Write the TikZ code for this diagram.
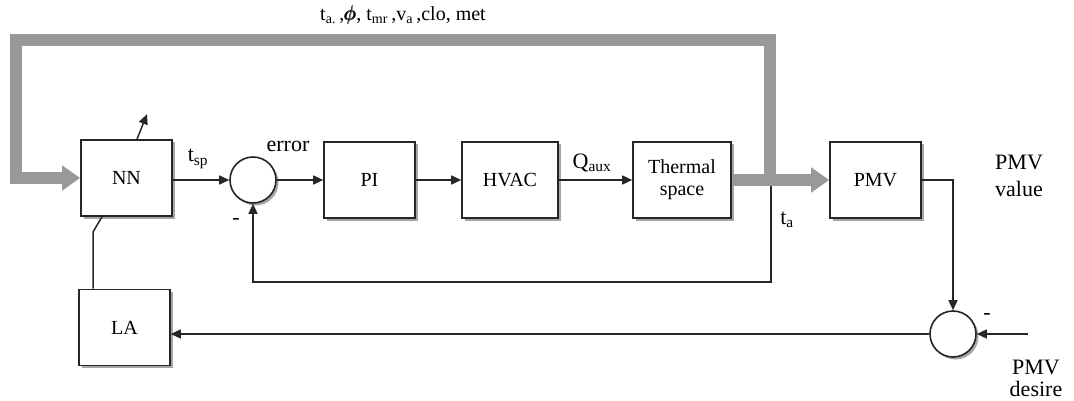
\documentclass[tikz,border=0pt]{standalone}
\usepackage{amsmath}
\usepackage{fontspec}
\setmainfont{Liberation Serif}
\usetikzlibrary{arrows.meta,shadows,calc}
\begin{document}
\begin{tikzpicture}[x=1pt,y=-1pt,
  blk/.style={draw=black!85, line width=1.6pt, fill=white, minimum width=91pt, minimum height=76pt,
    font=\fontsize{20}{22}\selectfont, align=center, inner sep=0pt,
    drop shadow={shadow xshift=2.5pt, shadow yshift=-2.5pt, opacity=1, fill=black!35}},
  sumc/.style={draw=black!85, line width=1.6pt, fill=white, circle, minimum size=46pt, inner sep=0pt,
    drop shadow={shadow xshift=2.5pt, shadow yshift=-2.5pt, opacity=1, fill=black!35}},
  sig/.style={draw=black!85, line width=1.5pt, -{Triangle[length=10pt,width=9pt]}},
  wire/.style={draw=black!85, line width=1.5pt},
  band/.style={draw=black!40, line width=12pt, line join=miter},
  bandarrow/.style={band, -{Triangle[length=18pt,width=24pt]}},
  lbl/.style={font=\fontsize{22}{24}\selectfont, inner sep=0pt},
  toplbl/.style={font=\fontsize{20}{22}\selectfont, inner sep=0pt}
]
\useasboundingbox (0,0) rectangle (1074,401);

% blocks
\node[blk] (NN) at (126.5,178) {NN};
\node[blk] (LA) at (124.5,327.5) {LA};
\node[blk] (PI) at (369.5,180) {PI};
\node[blk, minimum width=96pt] (HVAC) at (510,180) {HVAC};
\node[blk, minimum width=98pt] (TS) at (682,180) {Thermal\\space};
\node[blk] (PMV) at (875.5,180) {PMV};
\node[sumc] (S1) at (253,180) {};
\node[sumc] (S2) at (953,334) {};

% coordinates
\coordinate (j) at (770,180);
\coordinate (tl) at (16,40);
\coordinate (fb) at (771,186);
\coordinate (fc) at (771,282);
\coordinate (k) at (93,232);
\coordinate (pd) at (1028,334);

% thick gray paths
\draw[bandarrow] (TS.east) -- (j) |- (tl) |- (NN.west);
\draw[bandarrow] (j) -- (PMV.west);

% signals
\draw[sig] (NN.east |- S1.west) -- (S1.west);
\draw[sig] (S1.east) -- (PI.west);
\draw[sig] (PI.east) -- (HVAC.west);
\draw[sig] (HVAC.east) -- (TS.west);
\draw[sig] (fb) -- (fc) -| (S1.south);
\draw[sig] (PMV.east) -| (S2.north);
\draw[sig] (pd) -- (S2.east);
\draw[sig] (S2.west) -- (S2.west -| LA.east);
\draw[wire] ([xshift=-24.5pt]NN.south) -- (k) -- (k |- LA.north);
\draw[sig] ([xshift=10.5pt]NN.north) -- ++(10,-25);

% labels
\node[toplbl] (tlab) at (403,15) {t\textsubscript{a.}\,,$\pmb{\phi}$, t\textsubscript{mr}\,,v\textsubscript{a}\,,clo, met};
\node[lbl] (tsp) at (198,159) {t\textsubscript{sp}};
\node[lbl] (err) at (288,146) {error};
\node[lbl] (m1) at (236,221) {-};
\node[lbl] (qaux) at (592,163) {Q\textsubscript{aux}};
\node[lbl] (ta) at (787,220) {t\textsubscript{a}};
\node[lbl, align=left, anchor=west, font=\fontsize{22}{27}\selectfont] (pmvv) at (995,176) {PMV\\value};
\node[lbl] (m2) at (987,316) {-};
\node[lbl, align=center, font=\fontsize{22}{22}\selectfont] (pmvd) at (1036,378) {PMV\\desire};
\end{tikzpicture}
\end{document}
